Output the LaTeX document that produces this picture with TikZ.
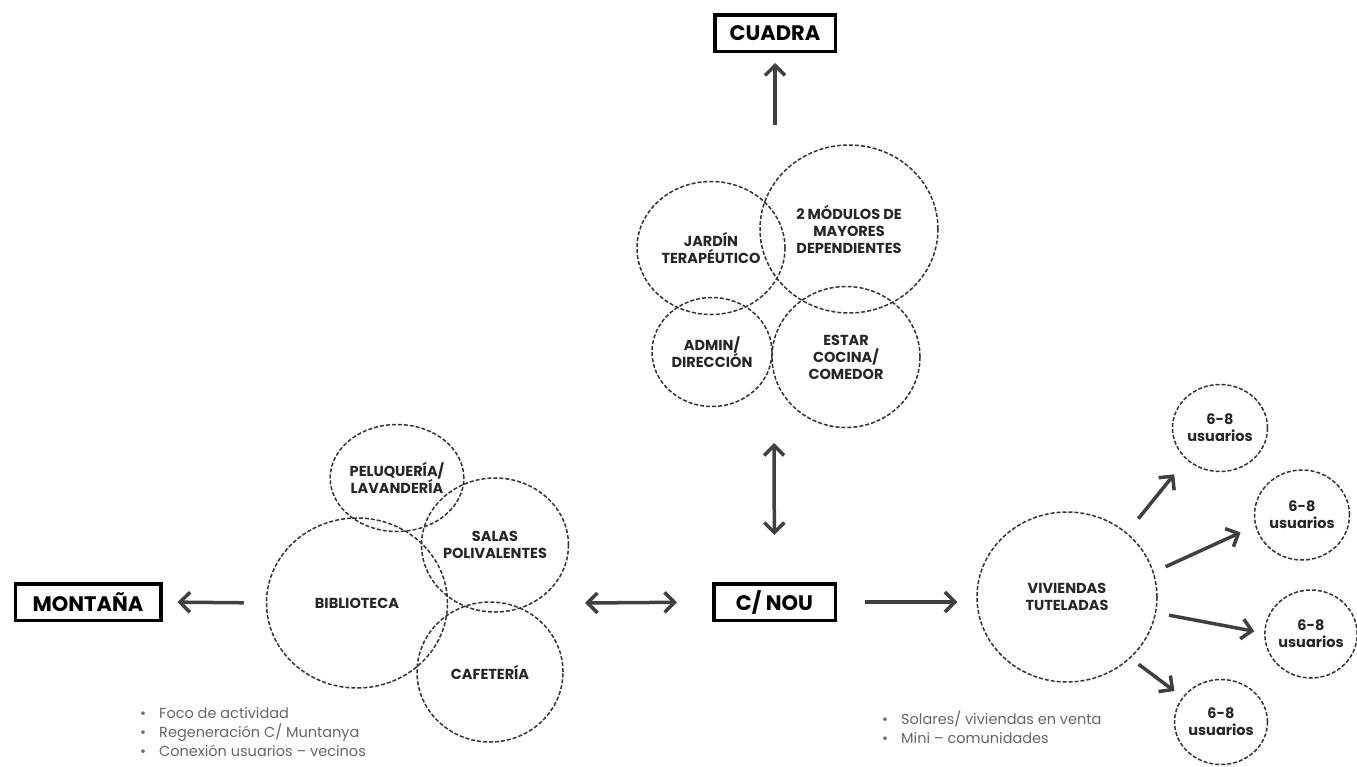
\documentclass[tikz,border=0pt]{standalone}
\usepackage{fontspec}
\setmainfont{Poppins}
\usetikzlibrary{arrows.meta}
\usetikzlibrary{shapes.geometric}

\begin{document}
\begin{tikzpicture}[x=1pt,y=-1pt,>={Straight Barb[length=10pt,width=20pt]}]
    \tikzstyle{ring} = [draw=black!80, ellipse, dash pattern=on 4pt off 2pt, line width=1.5pt, inner sep=0pt, align=center, text=black!85, font=\fontsize{14.5}{17}\selectfont\bfseries]
    \tikzstyle{b} = [draw, line width=3.5pt, minimum height=36.5, font=\fontsize{21}{24}\selectfont\bfseries]
    \tikzstyle{e} = [color=black!75, line width=3.5pt, ->]
    \tikzstyle{note} = [align=left, anchor=north west, inner sep=0pt, text=black!60, font=\fontsize{14.5}{19}\selectfont]
    \useasboundingbox (0,0) rectangle (1357,766);
    % boxes
    \node[b, minimum width=120.5] (cuadra) at (775,33) {CUADRA};
    \node[b, minimum width=145.5] (mont) at (88,602) {MONTAÑA};
    \node[b, minimum width=121.5] (nou) at (774.5,602) {C/ NOU};
    % top group
    \node[ring, minimum width=148, minimum height=133] (jardin) at (711,248) {JARDÍN\\TERAPÉUTICO};
    \node[ring, minimum width=178, minimum height=168] (modulos) at (849,229) {2 MÓDULOS DE\\MAYORES\\DEPENDIENTES};
    \node[ring, minimum width=120, minimum height=109] (admin) at (712,352) {ADMIN/\\DIRECCIÓN};
    \node[ring, minimum width=148, minimum height=141] (estar) at (846,357) {ESTAR\\COCINA/\\COMEDOR};
    % left group
    \node[ring, minimum width=115, minimum height=107] (pelu) at (397,478) {PELUQUERÍA/\\LAVANDERÍA};
    \node[ring, minimum width=146, minimum height=134] (salas) at (495,545) {SALAS\\POLIVALENTES};
    \node[ring, minimum width=181, minimum height=170] (bib) at (357,603) {BIBLIOTECA};
    \node[ring, minimum width=146, minimum height=140] (cafe) at (490,672) {CAFETERÍA};
    % right group
    \node[ring, minimum width=180, minimum height=170] (viv) at (1067,597) {VIVIENDAS\\TUTELADAS};
    \node[ring, minimum width=95, minimum height=87] (u1) at (1220,428) {6-8\\usuarios};
    \node[ring, minimum width=95, minimum height=90] (u2) at (1302,515) {6-8\\usuarios};
    \node[ring, minimum width=91, minimum height=88] (u3) at (1311,634) {6-8\\usuarios};
    \node[ring, minimum width=93, minimum height=85] (u4) at (1221,722) {6-8\\usuarios};
    % notes
    \node[note] (notel) at (140,707) {\makebox[19pt][l]{\textbullet}Foco de actividad\\\makebox[19pt][l]{\textbullet}Regeneración C/ Muntanya\\\makebox[19pt][l]{\textbullet}Conexión usuarios -- vecinos};
    \node[note] (noter) at (882,711) {\makebox[19pt][l]{\textbullet}Solares/ viviendas en venta\\\makebox[19pt][l]{\textbullet}Mini -- comunidades};
    % arrows
    \coordinate (up) at (775,125);
    \coordinate (mid) at (774,443);
    \coordinate (lft) at (585,603);
    \draw[e, shorten >=10pt] (up) -- (cuadra.south);
    \draw[e, <->, shorten >=47pt] (mid) -- (nou.north);
    \draw[e, <->, shorten >=35pt] (lft) -- (nou.west);
    \draw[e, shorten <=22pt, shorten >=15pt] (bib.west) -- (mont.east);
    \draw[e, shorten <=28pt, shorten >=19pt] (nou.east) -- (nou.east -| viv.west);
    \draw[e, shorten <=18pt, shorten >=19pt] (viv.47) -- (u1.223);
    \draw[e, shorten <=13pt, shorten >=16pt] (viv.16) -- (u2.193);
    \draw[e, shorten <=13pt, shorten >=10pt] (viv.-10) -- (u3.179);
    \draw[e, shorten <=10pt, shorten >=10pt] (viv.-44) -- (u4.147);
\end{tikzpicture}
\end{document}
